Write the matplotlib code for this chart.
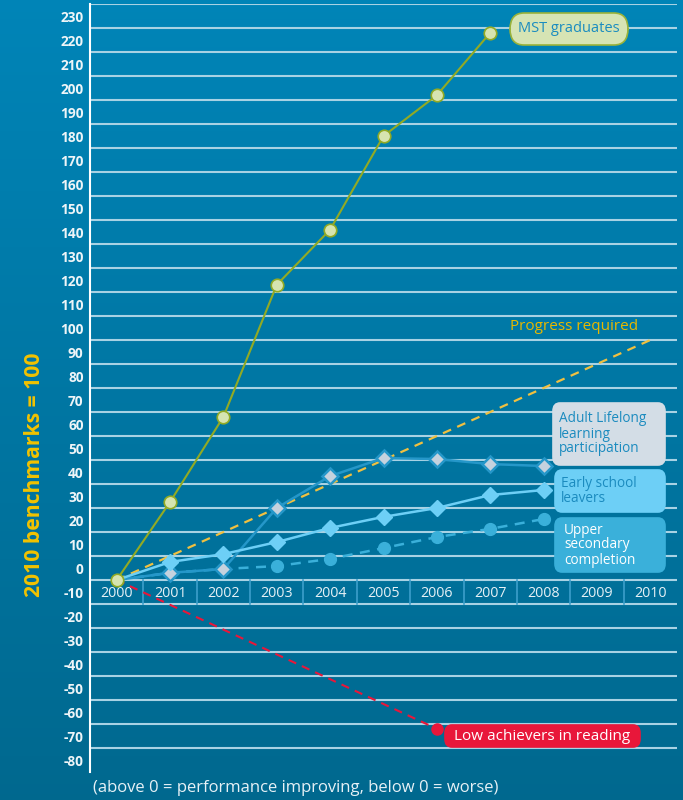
import numpy as np
from matplotlib import pyplot as plt
from matplotlib import transforms
from matplotlib.patches import FancyBboxPatch

plt.rcParams['font.family'] = ['Open Sans', 'DejaVu Sans']

years = [2000, 2001, 2002, 2003, 2004, 2005, 2006, 2007, 2008, 2009, 2010]
y_ticks = list(range(230, -90, -10))

# index values, 2010 benchmarks = 100
mst_years = [2000, 2001, 2002, 2003, 2004, 2005, 2006, 2007]
mst_vals = [0, 32.5, 68, 123, 146, 185, 202, 228]

progress_years = [2000, 2010]
progress_vals = [0, 100]

adult_years = [2000, 2001, 2002, 2003, 2004, 2005, 2006, 2007, 2008]
adult_vals = [0, 3, 4.6, 30, 43.3, 50.8, 50.4, 48.3, 47.5]

early_years = [2000, 2001, 2002, 2003, 2004, 2005, 2006, 2007, 2008]
early_vals = [0, 7.5, 10.8, 15.8, 21.7, 26.3, 30, 35.4, 37.5]

upper_years = [2000, 2001, 2002, 2003, 2004, 2005, 2006, 2007, 2008]
upper_vals = [0, 3, 4.6, 5.8, 8.8, 13.3, 17.9, 21.3, 25.4]

low_years = [2000, 2006]
low_vals = [0, -62]

caption = '(above 0 = performance improving, below 0 = worse)'


def xi(yrs):
    return [y - 2000 for y in yrs]


fig = plt.figure(figsize=(6.83, 8), dpi=100)

# background gradient
bg = fig.add_axes([0, 0, 1, 1], zorder=-10)
grad = np.linspace(0, 1, 256).reshape(-1, 1)
top = np.array([0.0, 0.52, 0.72])
bot = np.array([0.0, 0.41, 0.56])
img = top[None, None, :] * (1 - grad[:, :, None]) + bot[None, None, :] * grad[:, :, None]
bg.imshow(img, aspect='auto', extent=[0, 1, 0, 1])
bg.set_axis_off()

ax = fig.add_axes([90 / 683, 28 / 800, 587 / 683, 768 / 800])
ax.set_xlim(-0.5, 10.5)
ax.set_ylim(-80, 240)
ax.set_axis_off()
ax.patch.set_alpha(0)

grid_c = '#a8d2e4'
for v in range(-70, 250, 10):
    ax.axhline(v, color=grid_c, lw=1.5, zorder=1)
# left axis line
ax.plot([-0.5, -0.5], [-80, 240], color='white', lw=1.5, zorder=2, clip_on=False)

# year row with dividers
for k in range(1, 11):
    ax.plot([k - 0.5, k - 0.5], [-10, 0], color='#3d9fcb', lw=1.2, zorder=1)
for k, yr in enumerate(years):
    ax.text(k, -5.5, str(yr), color='#e6f1f6', fontsize=10.3, ha='center', va='center', zorder=3)

# y tick labels placed in the band above each value
trans = transforms.blended_transform_factory(ax.transAxes, ax.transData)
for v in y_ticks:
    ax.text(-0.011, v + 4.3, str(v), transform=trans, color='#eef5f8', fontsize=9.8,
            fontweight='bold', ha='right', va='center')

fig.text(35 / 683, 1 - 475 / 800, '2010 benchmarks = 100', rotation=90, color='#f2c200',
         fontsize=15.2, fontweight='bold', ha='center', va='center')

# series
ax.plot(xi(progress_years), progress_vals, color='#f0c040', lw=1.6, ls=(0, (4, 3)), zorder=4)
ax.plot(xi(low_years), low_vals, color='#e8173a', lw=1.5, ls=(0, (4, 3)), zorder=4)
ax.plot(xi(low_years)[-1:], low_vals[-1:], 'o', color='#e8173a', ms=8, zorder=5)

ax.plot(xi(upper_years), upper_vals, color='#3ab0da', lw=1.8, ls=(0, (4, 3)),
        marker='o', ms=8.5, mfc='#3ab0da', mec='#3ab0da', zorder=5)
ax.plot(xi(adult_years), adult_vals, color='#2597c9', lw=1.8,
        marker='D', ms=8.5, mfc='#c5d2de', mec='#2597c9', mew=1.8, markevery=list(range(1, 9)), zorder=6)
ax.plot(xi(early_years), early_vals, color='#6dcff6', lw=1.8,
        marker='D', ms=8.5, mfc='#6dcff6', mec='#6dcff6', markevery=list(range(1, 9)), zorder=7)
ax.plot(xi(mst_years), mst_vals, color='#92aa24', lw=1.5,
        marker='o', ms=9, mfc='#d6e4b0', mec='#92aa24', mew=1.2, zorder=8)


def label_box(x0, y0, x1, y1, text, fc, ec, tc, fs=9.5, pad_x=6, ha='left', rad=7):
    # coords given in figure pixels (top-left origin)
    w, h = x1 - x0, y1 - y0
    box = FancyBboxPatch((x0 / 683, 1 - y1 / 800), w / 683, h / 800,
                         boxstyle='round,pad=0,rounding_size=%f' % (rad / 683),
                         transform=fig.transFigure, fc=fc, ec=ec, lw=1.2, zorder=20)
    fig.add_artist(box)
    if ha == 'center':
        tx = (x0 + x1) / 2
    else:
        tx = x0 + pad_x
    fig.text(tx / 683, 1 - (y0 + y1) / 2 / 800, text, color=tc, fontsize=fs, ha=ha,
             va='center', linespacing=1.0, zorder=21)


label_box(510, 13, 628, 45, 'MST graduates', '#d6e4b4', '#9ab33a', '#1a8cc0', fs=10.5, ha='center', rad=14)
label_box(553, 403, 665, 465, 'Adult Lifelong\nlearning\nparticipation', '#d3dde6', '#d3dde6', '#1b8bbf', fs=9.8)
label_box(555, 470, 665, 512, 'Early school\nleavers', '#6dcff6', '#6dcff6', '#1b8bbf', fs=9.8)
label_box(555, 518, 665, 572, 'Upper\nsecondary\ncompletion', '#3ab0da', '#3ab0da', 'white', fs=9.8, pad_x=9)
label_box(445, 725, 640, 747, 'Low achievers in reading', '#e8173a', '#e8173a', 'white', fs=11, ha='center')

fig.text(510 / 683, 1 - 327 / 800, 'Progress required', color='#e8b800', fontsize=11,
         ha='left', va='center')

fig.text(93 / 683, 1 - 788 / 800, caption, color='#e6f1f6', fontsize=12, ha='left', va='center')

plt.savefig('out.png', dpi=100)
